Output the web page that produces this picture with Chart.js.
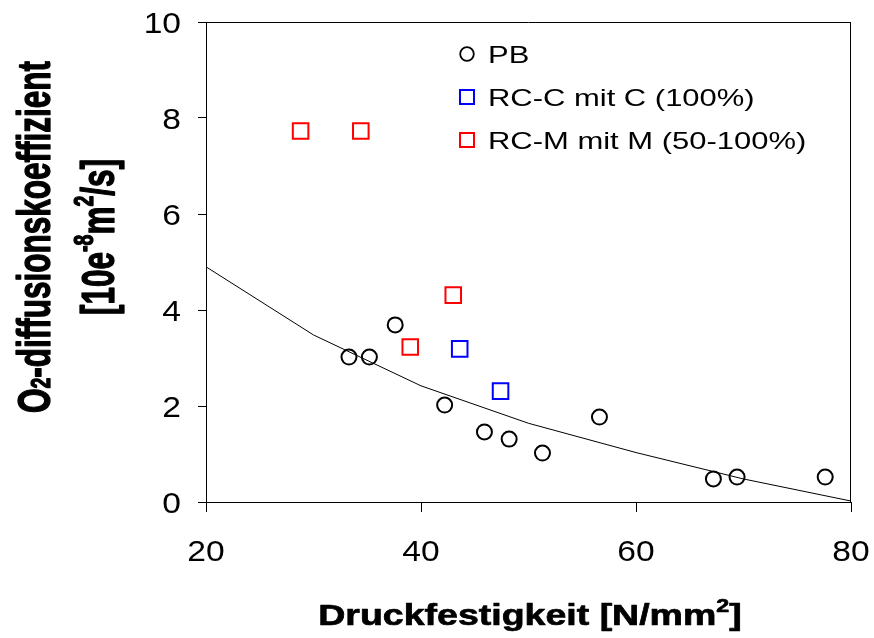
<!DOCTYPE html>
<html>
<head>
<meta charset="utf-8">
<script src="https://cdn.jsdelivr.net/npm/chart.js@4.4.0/dist/chart.umd.min.js"></script>
<style>
	html, body { margin: 0; padding: 0; background: #fff; }
	#wrap { position: relative; width: 874px; height: 638px; }
</style>
</head>
<body>
<div id="wrap"><canvas id="chart"></canvas></div>
<script>
// values
var pbX  = [33.3, 35.2, 37.6, 42.2, 45.9, 48.2, 51.3, 56.6, 67.2, 69.4, 77.6];
var pbY  = [3.02, 3.02, 3.69, 2.02, 1.46, 1.31, 1.02, 1.77, 0.48, 0.52, 0.52];
var rccX = [43.6, 47.4];
var rccY = [3.19, 2.31];
var rcmX = [28.8, 34.4, 39.0, 43.0];
var rcmY = [7.73, 7.73, 3.23, 4.31];
var fitX = [20, 30, 40, 50, 60, 70, 80];
var fitY = [4.9, 3.48, 2.42, 1.64, 1.03, 0.48, 0.02];
var xTicks = [20, 40, 60, 80];
var yTicks = [0, 2, 4, 6, 8, 10];
var seriesNames = ['PB', 'RC-C mit C (100%)', 'RC-M mit M (50-100%)'];
var xTitle = [{t: 'Druckfestigkeit [N/mm'}, {t: '2', sup: true}, {t: ']'}];
var yTitle1 = [{t: 'O'}, {t: '2', sub: true}, {t: '-diffusionskoeffizient'}];
var yTitle2 = [{t: '[10e'}, {t: '-8', sup: true}, {t: 'm'}, {t: '2', sup: true}, {t: '/s]'}];

var FAM = '"Liberation Sans", Arial, sans-serif';

function toPts(xs, ys) {
	return xs.map(function(x, i) { return {x: x, y: ys[i]}; });
}

function segFont(seg, size, bold) {
	var s = (seg.sup || seg.sub) ? size * 0.62 : size;
	return (bold ? 'bold ' : '') + s + 'px ' + FAM;
}

// draws centred rich text, baseline at y=0 of the current transform
function drawRich(ctx, segs, size, bold, heavy) {
	var w = 0;
	segs.forEach(function(s) { ctx.font = segFont(s, size, bold); w += ctx.measureText(s.t).width; });
	var x = -w / 2;
	ctx.textAlign = 'left';
	ctx.textBaseline = 'alphabetic';
	ctx.strokeStyle = '#000';
	ctx.lineWidth = heavy || 0;
	ctx.lineJoin = 'round';
	segs.forEach(function(s) {
		ctx.font = segFont(s, size, bold);
		var dy = s.sup ? -size * 0.45 : 0;
		ctx.fillText(s.t, x, dy);
		if (heavy) ctx.strokeText(s.t, x, dy);
		x += ctx.measureText(s.t).width;
	});
}

var framePlugin = {
	id: 'frame',
	beforeDatasetsDraw: function(chart) {
		var a = chart.chartArea, ctx = chart.ctx;
		ctx.save();
		ctx.strokeStyle = '#000';
		ctx.lineWidth = 1;
		ctx.beginPath();
		ctx.moveTo(a.left, a.top + 0.5);
		ctx.lineTo(a.right, a.top + 0.5);
		ctx.moveTo(a.right - 0.5, a.top);
		ctx.lineTo(a.right - 0.5, a.bottom);
		ctx.stroke();
		ctx.restore();
	}
};

var textPlugin = {
	id: 'texts',
	afterDraw: function(chart) {
		var ctx = chart.ctx, sx = chart.scales.x, sy = chart.scales.y;
		ctx.save();
		ctx.fillStyle = '#000';

		// tick labels
		ctx.font = '30px ' + FAM;
		ctx.textBaseline = 'alphabetic';
		xTicks.forEach(function(v) {
			ctx.save();
			ctx.translate(sx.getPixelForValue(v), 561);
			ctx.scale(1.12, 1);
			ctx.textAlign = 'center';
			ctx.fillText(String(v), 0, 0);
			ctx.restore();
		});
		yTicks.forEach(function(v) {
			ctx.save();
			ctx.translate(181, sy.getPixelForValue(v) + 10.8);
			ctx.scale(1.12, 1);
			ctx.textAlign = 'right';
			ctx.fillText(String(v), 0, 0);
			ctx.restore();
		});

		// x title
		ctx.save();
		ctx.translate(530, 625);
		ctx.scale(1.25, 1);
		drawRich(ctx, xTitle, 30, true, 0.7);
		ctx.restore();

		// y title, two lines
		var cy = 237;
		ctx.save();
		ctx.translate(50, cy);
		ctx.rotate(-Math.PI / 2);
		ctx.scale(1, 1.45);
		drawRich(ctx, yTitle1, 31.5, true, 0.9);
		ctx.restore();
		ctx.save();
		ctx.translate(114, cy);
		ctx.rotate(-Math.PI / 2);
		ctx.scale(1, 1.45);
		drawRich(ctx, yTitle2, 31.5, true, 0.9);
		ctx.restore();

		// legend
		var rows = [62.5, 105.5, 148.5];
		var mx = 467, tx = 488;
		chart.data.datasets.slice(0, 3).forEach(function(ds, i) {
			var yb = rows[i], yc = yb - 8.5;
			ctx.save();
			ctx.strokeStyle = ds.borderColor;
			if (ds.pointStyle === 'circle') {
				ctx.lineWidth = 1.8;
				ctx.beginPath();
				ctx.arc(mx, yc, 6.8, 0, Math.PI * 2);
				ctx.stroke();
			} else {
				ctx.lineWidth = 2;
				ctx.strokeRect(mx - 7, yc - 7, 14, 14);
			}
			ctx.translate(tx, yb);
			ctx.scale(1.29, 1);
			ctx.fillStyle = '#000';
			ctx.font = '24px ' + FAM;
			ctx.textAlign = 'left';
			ctx.textBaseline = 'alphabetic';
			ctx.fillText(ds.label, 0, 0);
			ctx.restore();
		});
		ctx.restore();
	}
};

var chart = new Chart(document.getElementById('chart'), {
	type: 'scatter',
	data: {
		datasets: [
			{label: seriesNames[0], data: toPts(pbX, pbY), pointStyle: 'circle', pointRadius: 7.5,
				borderColor: '#000', backgroundColor: 'rgba(0,0,0,0)', borderWidth: 2},
			{label: seriesNames[1], data: toPts(rccX, rccY), pointStyle: 'rect', pointRadius: 11,
				borderColor: '#0000ff', backgroundColor: 'rgba(0,0,0,0)', borderWidth: 2},
			{label: seriesNames[2], data: toPts(rcmX, rcmY), pointStyle: 'rect', pointRadius: 11,
				borderColor: '#ff0000', backgroundColor: 'rgba(0,0,0,0)', borderWidth: 2},
			{label: 'Regression', data: toPts(fitX, fitY), showLine: true, pointRadius: 0,
				borderColor: '#000', borderWidth: 1, tension: 0}
		]
	},
	options: {
		responsive: true,
		maintainAspectRatio: false,
		animation: false,
		layout: {padding: {left: 198, right: 23, top: 22, bottom: 126}},
		plugins: {legend: {display: false}, tooltip: {enabled: false}},
		scales: {
			x: {
				type: 'linear', min: 20, max: 80,
				afterBuildTicks: function(s) { s.ticks = xTicks.map(function(v) { return {value: v}; }); },
				ticks: {display: false},
				grid: {drawOnChartArea: false, drawTicks: true, tickLength: 10, color: '#000', lineWidth: 1},
				border: {color: '#000', width: 1}
			},
			y: {
				type: 'linear', min: 0, max: 10,
				afterBuildTicks: function(s) { s.ticks = yTicks.map(function(v) { return {value: v}; }); },
				ticks: {display: false},
				grid: {drawOnChartArea: false, drawTicks: true, tickLength: 8, color: '#000', lineWidth: 1},
				border: {color: '#000', width: 1}
			}
		}
	},
	plugins: [framePlugin, textPlugin]
});
</script>
</body>
</html>
